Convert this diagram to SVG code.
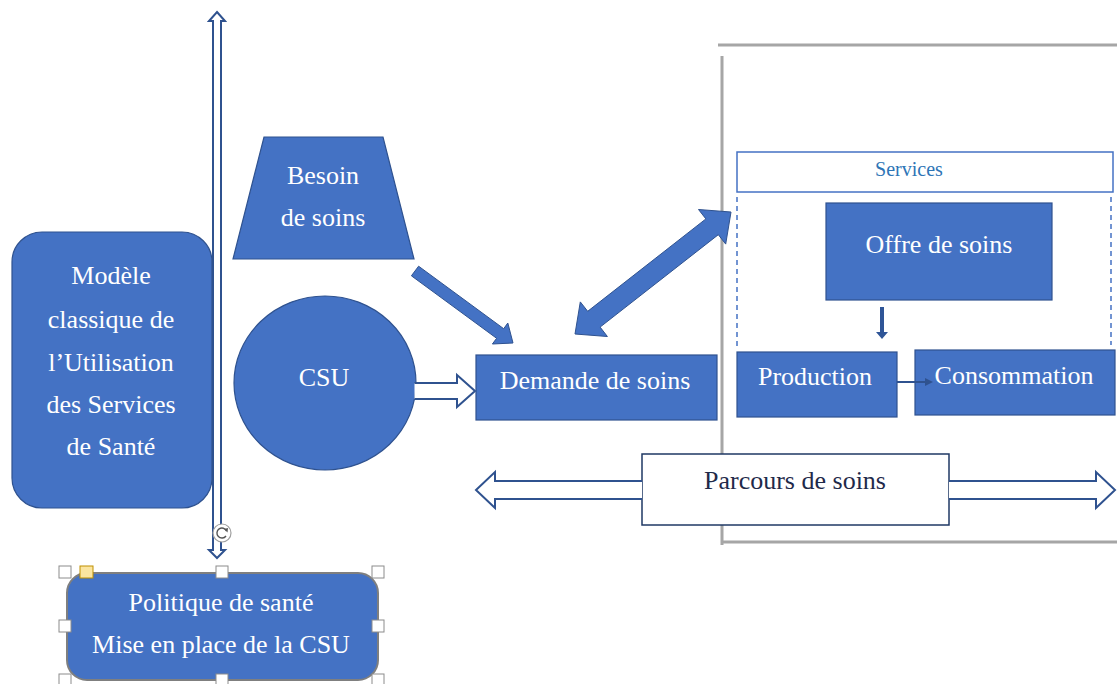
<svg xmlns="http://www.w3.org/2000/svg" width="1117" height="684" viewBox="0 0 1117 684">
<style>
.node{fill:#4472C4;stroke:#2F528F;stroke-width:1.2}
.t{font-family:"Liberation Serif","Times New Roman",serif;font-size:26px;fill:#FFFFFF;text-anchor:middle}
.hollow{fill:#FFFFFF;stroke:#2F528F;stroke-width:2;stroke-linejoin:miter}
.block{fill:#4472C4;stroke:#2F528F;stroke-width:1}
.frame{stroke:#A6A6A6;stroke-width:3;fill:none}
.handle{fill:#FFFFFF;stroke:#8C8C8C;stroke-width:1}
</style>
<rect width="1117" height="684" fill="#FFFFFF"/>
<g id="frame">
<line class="frame" x1="718" y1="45" x2="1117" y2="45"/>
<line class="frame" x1="722" y1="56" x2="722" y2="545"/>
<line class="frame" x1="722" y1="542" x2="1117" y2="542"/>
</g>
<g id="modele">
<rect class="node" x="12" y="232" width="200" height="276" rx="30"/>
<text class="t" x="111" y="284">Modèle</text>
<text class="t" x="111" y="328">classique de</text>
<text class="t" x="111" y="371">l’Utilisation</text>
<text class="t" x="111" y="413">des Services</text>
<text class="t" x="111" y="455">de Santé</text>
</g>
<g id="besoin">
<polygon class="node" points="264,137 383,137 414,259 233,259"/>
<text class="t" x="323" y="184">Besoin</text>
<text class="t" x="323" y="226">de soins</text>
</g>
<g id="csu">
<ellipse class="node" cx="325" cy="383" rx="91" ry="87"/>
<text class="t" x="324" y="386">CSU</text>
</g>
<g id="demande">
<rect class="node" x="476" y="355" width="241" height="65"/>
<text class="t" x="595" y="389">Demande de soins</text>
</g>
<g id="services">
<rect x="737" y="152" width="376" height="40" fill="#FFFFFF" stroke="#4472C4" stroke-width="1.5"/>
<text x="909" y="176" font-family="Liberation Serif,serif" font-size="20" fill="#2E75B6" text-anchor="middle">Services</text>
</g>
<g id="offre">
<rect class="node" x="826" y="203" width="226" height="97"/>
<text class="t" x="939" y="253">Offre de soins</text>
</g>
<g id="production">
<rect class="node" x="737" y="352" width="160" height="65"/>
<text class="t" x="815" y="385">Production</text>
</g>
<g id="consommation">
<rect class="node" x="915" y="350" width="200" height="65"/>
<text class="t" x="1014" y="384">Consommation</text>
</g>
<g id="parcours">
<rect x="642" y="454" width="307" height="71" fill="#FFFFFF" stroke="#1F3864" stroke-width="1.5"/>
<text x="795" y="489" font-family="Liberation Serif,serif" font-size="26" fill="#1F2A4A" text-anchor="middle">Parcours de soins</text>
</g>
<g id="connectors">
<polygon class="hollow" points="217,12 225,21 221,21 221,550 225,550 217,558 209,550 213,550 213,21 209,21" stroke-width="1.5"/>
<path class="hollow" d="M414.5,383 L457,383 L457,375 L475,391 L457,407 L457,399 L414.5,399"/>
<polygon class="block" points="418.6,266.2 503.7,328.7 507.8,323.0 513,343 492.4,344.0 496.6,338.3 411.4,275.8"/>
<polygon class="block" points="731,212 725.7,244.1 718.3,234.7 600.1,327.1 607.4,336.5 575,334 580.3,301.9 587.7,311.3 705.9,218.9 698.5,209.5"/>
<path class="hollow" d="M642,481 L495,481 L495,472 L476,490 L495,508 L495,499 L642,499"/>
<path class="hollow" d="M949,481 L1096,481 L1096,472 L1115,490 L1096,508 L1096,499 L949,499"/>
<polygon fill="#2F5597" points="880,307 884,307 884,332 888,332 882,339 876,332 880,332"/>
<line x1="897" y1="382" x2="927" y2="382" stroke="#2F528F" stroke-width="2"/>
<polygon fill="#2F528F" points="925,378 933,382 925,386"/>
<line x1="737" y1="197" x2="737" y2="350" stroke="#4472C4" stroke-width="1.5" stroke-dasharray="5,4"/>
<line x1="1111" y1="197" x2="1111" y2="345" stroke="#4472C4" stroke-width="1.5" stroke-dasharray="5,4"/>
</g>
<g id="politique">
<rect x="67" y="573" width="311" height="107" rx="20" fill="#4472C4" stroke="#7F7F7F" stroke-width="2"/>
<text class="t" x="221" y="611">Politique de santé</text>
<text class="t" x="221" y="653">Mise en place de la CSU</text>
<rect class="handle" x="59" y="566" width="12" height="12"/>
<rect x="80" y="566" width="13" height="12" fill="#FBE5A0" stroke="#BF9000" stroke-width="1"/>
<rect class="handle" x="216" y="566" width="12" height="12"/>
<rect class="handle" x="372" y="566" width="12" height="12"/>
<rect class="handle" x="59" y="620" width="12" height="12"/>
<rect class="handle" x="372" y="620" width="12" height="12"/>
<rect class="handle" x="59" y="674" width="12" height="12"/>
<rect class="handle" x="216" y="674" width="12" height="12"/>
<rect class="handle" x="372" y="674" width="12" height="12"/>
<circle cx="222" cy="533" r="9" fill="#FFFFFF" stroke="#A0A0A0" stroke-width="1.2"/>
<path d="M226.5,531 A5,5 0 1 0 226,536" fill="none" stroke="#555555" stroke-width="1.4"/>
<polygon points="224,529 228,528 227.5,532.5" fill="#555555"/>
</g>
</svg>
